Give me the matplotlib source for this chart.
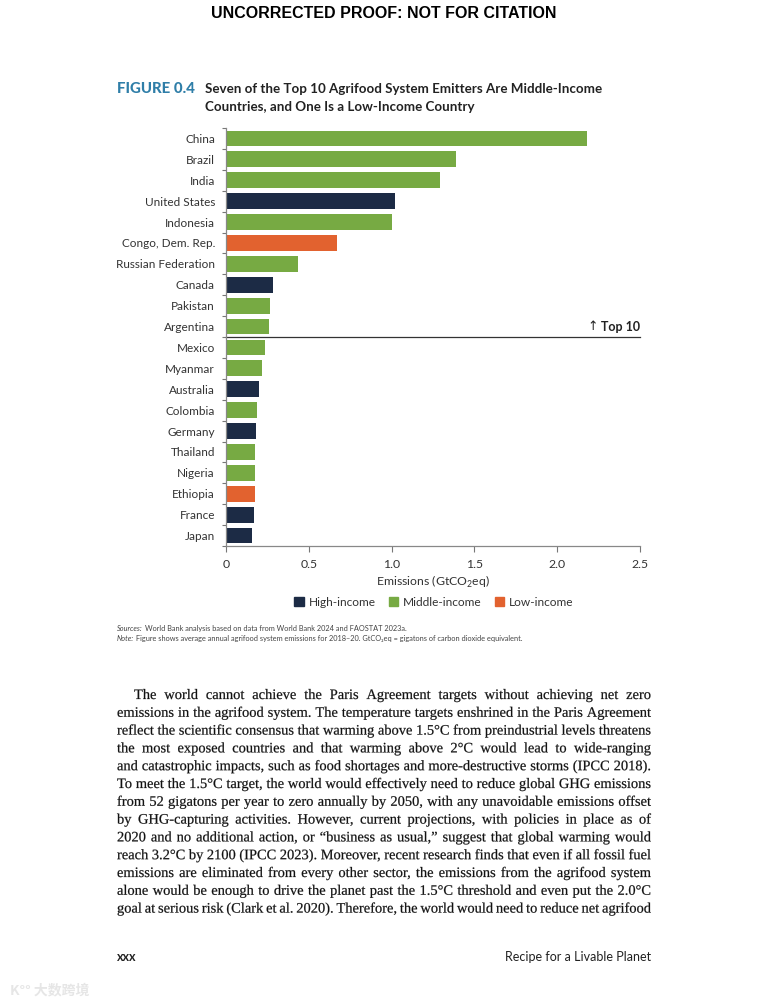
import matplotlib.pyplot as plt
from matplotlib.patches import Patch, PathPatch
from matplotlib.textpath import TextPath, text_to_path
from matplotlib.font_manager import FontProperties
from matplotlib.transforms import Affine2D, IdentityTransform

# Data (GtCO2eq, average 2018-20)
countries = ["China", "Brazil", "India", "United States", "Indonesia",
             "Congo, Dem. Rep.", "Russian Federation", "Canada", "Pakistan",
             "Argentina", "Mexico", "Myanmar", "Australia", "Colombia",
             "Germany", "Thailand", "Nigeria", "Ethiopia", "France", "Japan"]
emissions = [2.18, 1.39, 1.29, 1.02, 1.00, 0.67, 0.435, 0.285, 0.268, 0.261,
             0.235, 0.215, 0.197, 0.187, 0.183, 0.178, 0.175, 0.173, 0.172, 0.157]
income = ["mid", "mid", "mid", "high", "mid", "low", "mid", "high", "mid", "mid",
          "mid", "mid", "high", "mid", "high", "mid", "mid", "low", "high", "high"]
x_ticks = [0, 0.5, 1.0, 1.5, 2.0, 2.5]
x_ticklabels = ["0", "0.5", "1.0", "1.5", "2.0", "2.5"]

colors = {"high": "#1c2b45", "mid": "#77aa43", "low": "#e2622f"}
labels = {"high": "High-income", "mid": "Middle-income", "low": "Low-income"}

body = [
    "The world cannot achieve the Paris Agreement targets without achieving net zero",
    "emissions in the agrifood system. The temperature targets enshrined in the Paris Agreement",
    "reflect the scientific consensus that warming above 1.5°C from preindustrial levels threatens",
    "the most exposed countries and that warming above 2°C would lead to wide-ranging",
    "and catastrophic impacts, such as food shortages and more-destructive storms (IPCC 2018).",
    "To meet the 1.5°C target, the world would effectively need to reduce global GHG emissions",
    "from 52 gigatons per year to zero annually by 2050, with any unavoidable emissions offset",
    "by GHG-capturing activities. However, current projections, with policies in place as of",
    "2020 and no additional action, or “business as usual,” suggest that global warming would",
    "reach 3.2°C by 2100 (IPCC 2023). Moreover, recent research finds that even if all fossil fuel",
    "emissions are eliminated from every other sector, the emissions from the agrifood system",
    "alone would be enough to drive the planet past the 1.5°C threshold and even put the 2.0°C",
    "goal at serious risk (Clark et al. 2020). Therefore, the world would need to reduce net agrifood",
]

plt.rcParams["font.family"] = ["Lato", "DejaVu Sans"]
plt.rcParams["mathtext.fontset"] = "custom"
plt.rcParams["mathtext.rm"] = "Lato"

W, H = 768, 1008
fig = plt.figure(figsize=(W / 100, H / 100), dpi=100)
renderer = fig.canvas.get_renderer()


def fx(px):
    return px / W


def fy(py):
    return 1 - py / H


ax = fig.add_axes([fx(226), fy(546), fx(640) - fx(226), fy(128) - fy(546)])
ypos = list(range(len(countries)))
ax.barh(ypos, emissions, height=0.76, color=[colors[c] for c in income])
ax.set_ylim(len(countries) - 0.5, -0.5)
ax.set_xlim(0, 2.5)
ax.set_yticks(ypos)
ax.set_yticklabels(countries, fontsize=8.5, color="#333333")
ax.set_yticks([i - 0.5 for i in range(len(countries) + 1)], minor=True)
ax.tick_params(axis="y", which="major", length=0, pad=8)
ax.tick_params(axis="y", which="minor", length=3, color="#777777", width=0.8)
ax.set_xticks(x_ticks)
ax.set_xticklabels(x_ticklabels, fontsize=8.8, color="#333333")
ax.tick_params(axis="x", length=4, color="#777777", width=0.8, pad=5)
for s in ["top", "right"]:
    ax.spines[s].set_visible(False)
for s in ["left", "bottom"]:
    ax.spines[s].set_color("#888888")
    ax.spines[s].set_linewidth(0.9)
ax.set_xlabel("Emissions (GtCO$_2$eq)", fontsize=8.8, color="#333333", labelpad=3)

# top-10 divider
ax.plot([0, 2.5], [9.5, 9.5], color="#333333", lw=0.9, clip_on=False)
ax.text(2.5, 9.3, "Top 10", fontsize=9, fontweight="bold", ha="right", va="bottom",
        color="#222222")
ax.text(2.245, 9.3, "↑", fontsize=9, ha="right", va="bottom", color="#222222",
        family="DejaVu Sans")

handles = [Patch(color=colors[k], label=labels[k]) for k in ["high", "mid", "low"]]
fig.legend(handles=handles, loc="center", bbox_to_anchor=(fx(434), fy(602)), ncol=3,
           frameon=False, fontsize=8.6, handlelength=0.8, handleheight=0.8,
           handletextpad=0.4, columnspacing=1.1, labelcolor="#333333")

# page header / figure title
fig.text(fx(384), fy(14), "UNCORRECTED PROOF: NOT FOR CITATION", ha="center",
         va="center", fontsize=11.5, fontweight="bold", family="Liberation Sans")
fig.text(fx(117), fy(89), "FIGURE 0.4", fontsize=10.8, fontweight="black",
         color="#2f7ea8", va="center")
fig.text(fx(205), fy(89), "Seven of the Top 10 Agrifood System Emitters Are Middle-Income",
         fontsize=9.6, fontweight="bold", color="#222222", va="center")
fig.text(fx(205), fy(107), "Countries, and One Is a Low-Income Country",
         fontsize=9.6, fontweight="bold", color="#222222", va="center")


def lead_text(px, py, lead, rest, size=5.3):
    t = fig.text(fx(px), fy(py), lead, fontsize=size, style="italic",
                 color="#444444", va="baseline")
    w = t.get_window_extent(renderer).width
    fig.text(fx(px + w + 2), fy(py), rest, fontsize=size, color="#444444",
             va="baseline")


lead_text(117, 631, "Sources:",
          "World Bank analysis based on data from World Bank 2024 and FAOSTAT 2023a.")
lead_text(117, 641, "Note:",
          "Figure shows average annual agrifood system emissions for 2018–20. "
          "GtCO₂eq = gigatons of carbon dioxide equivalent.")

# justified body text, drawn word by word as outlines so baselines stay level
serif = FontProperties(family="Liberation Serif", size=14.45)  # size in px here
left, right = 117, 651
for i, line in enumerate(body):
    base = H - (699 + i * 17.8)
    x0 = 134 if i == 0 else left
    words = line.split(" ")
    widths = [text_to_path.get_text_width_height_descent(w, serif, ismath=False)[0]
              for w in words]
    gap = (right - x0 - sum(widths)) / (len(words) - 1)
    x = x0
    for w, wd in zip(words, widths):
        path = TextPath((0, 0), w, prop=serif)
        fig.patches.append(PathPatch(path, facecolor="#111111", edgecolor="#111111",
                                     lw=0.15,
                                     transform=Affine2D().translate(x, base) + IdentityTransform(),
                                     figure=fig))
        x += wd + gap

# footer
fig.text(fx(117), fy(957), "xxx", fontsize=9, fontweight="bold", color="#222222", va="center")
fig.text(fx(651), fy(957), "Recipe for a Livable Planet", fontsize=9, color="#222222",
         ha="right", va="center")
fig.text(fx(10), fy(990), "K°° 大数跨境", fontsize=10, color="#e6e6e6", va="center",
         family=["Noto Sans CJK SC", "DejaVu Sans"], fontweight="bold")

fig.savefig("out.png", dpi=100)
